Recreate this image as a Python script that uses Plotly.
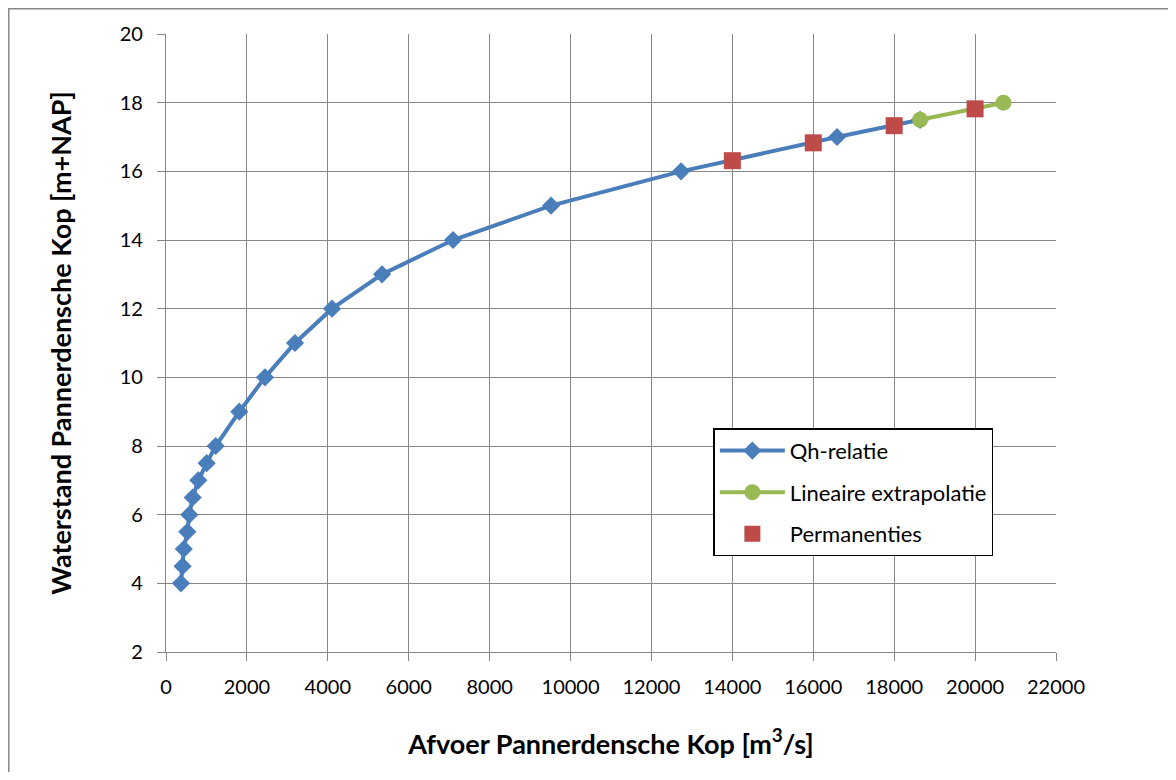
import plotly.graph_objects as go

# Qh-relatie: afvoer [m3/s] vs waterstand [m+NAP]
qh_afvoer = [370, 410, 440, 527, 577, 660, 800, 1005, 1228, 1812, 2447, 3189,
             4104, 5340, 7095, 9518, 12732, 16588, 18640]
qh_stand = [4.0, 4.5, 5.0, 5.5, 6.0, 6.5, 7.0, 7.5, 8.0, 9.0, 10.0, 11.0,
            12.0, 13.0, 14.0, 15.0, 16.0, 17.0, 17.5]

# lineaire extrapolatie
ext_afvoer = [18640, 20700]
ext_stand = [17.5, 18.0]

# permanenties
perm_afvoer = [14000, 16000, 18000, 20000]
perm_stand = [16.31, 16.83, 17.33, 17.82]

font_name = "Lato, Open Sans, sans-serif"
grid = "#878787"

fig = go.Figure()

fig.add_trace(go.Scatter(
    x=qh_afvoer, y=qh_stand, mode="lines+markers", name="Qh-relatie",
    legendgroup="a",
    line=dict(color="#4a7ebb", width=4),
    marker=dict(symbol="diamond", size=14, color="#4a7ebb"),
))
fig.add_trace(go.Scatter(
    x=ext_afvoer, y=ext_stand, mode="lines+markers", name="Lineaire extrapolatie",
    legendgroup="b",
    line=dict(color="#98b954", width=4),
    marker=dict(symbol="circle", size=16, color="#98b954"),
))
fig.add_trace(go.Scatter(
    x=perm_afvoer, y=perm_stand, mode="markers", name="Permanenties",
    legendgroup="c",
    marker=dict(symbol="square", size=17, color="#be4b48"),
))

axis_common = dict(
    showgrid=True, gridcolor=grid, gridwidth=1.3,
    showline=True, linecolor=grid, linewidth=1.3,
    ticks="outside", ticklen=8, tickcolor=grid,
    tickfont=dict(family=font_name, size=20, color="black"),
    zeroline=False, mirror=False,
)

fig.update_xaxes(
    range=[0, 22000], dtick=2000, tick0=0, tickformat="d",
    ticklabelstandoff=9,
    title=dict(text="Afvoer Pannerdensche Kop [m<sup>3</sup>/s]",
               font=dict(family=font_name, size=27, color="black", weight="bold"),
               standoff=37),
    **axis_common,
)
fig.update_yaxes(
    range=[2, 20], dtick=2, tick0=2,
    ticklabelstandoff=10,
    title=dict(text="Waterstand Pannerdensche Kop [m+NAP]",
               font=dict(family=font_name, size=27, color="black", weight="bold"),
               standoff=40),
    **axis_common,
)

fig.update_layout(
    width=1160, height=764,
    margin=dict(l=158, r=112, t=26, b=120),
    plot_bgcolor="white", paper_bgcolor="white",
    showlegend=True,
    legend=dict(
        x=0.615, y=0.362, xanchor="left", yanchor="top",
        bgcolor="white", bordercolor="black", borderwidth=1.5,
        font=dict(family=font_name, size=22, color="black"),
        itemwidth=65, traceorder="grouped", tracegroupgap=10,
    ),
    shapes=[dict(type="rect", xref="paper", yref="paper",
                 x0=(0.8 - 158) / 890, y0=-0.3, x1=1.3, y1=(644 - 0.8) / 618,
                 line=dict(color=grid, width=1.5), layer="below")],
)

fig.write_html("out.html")
